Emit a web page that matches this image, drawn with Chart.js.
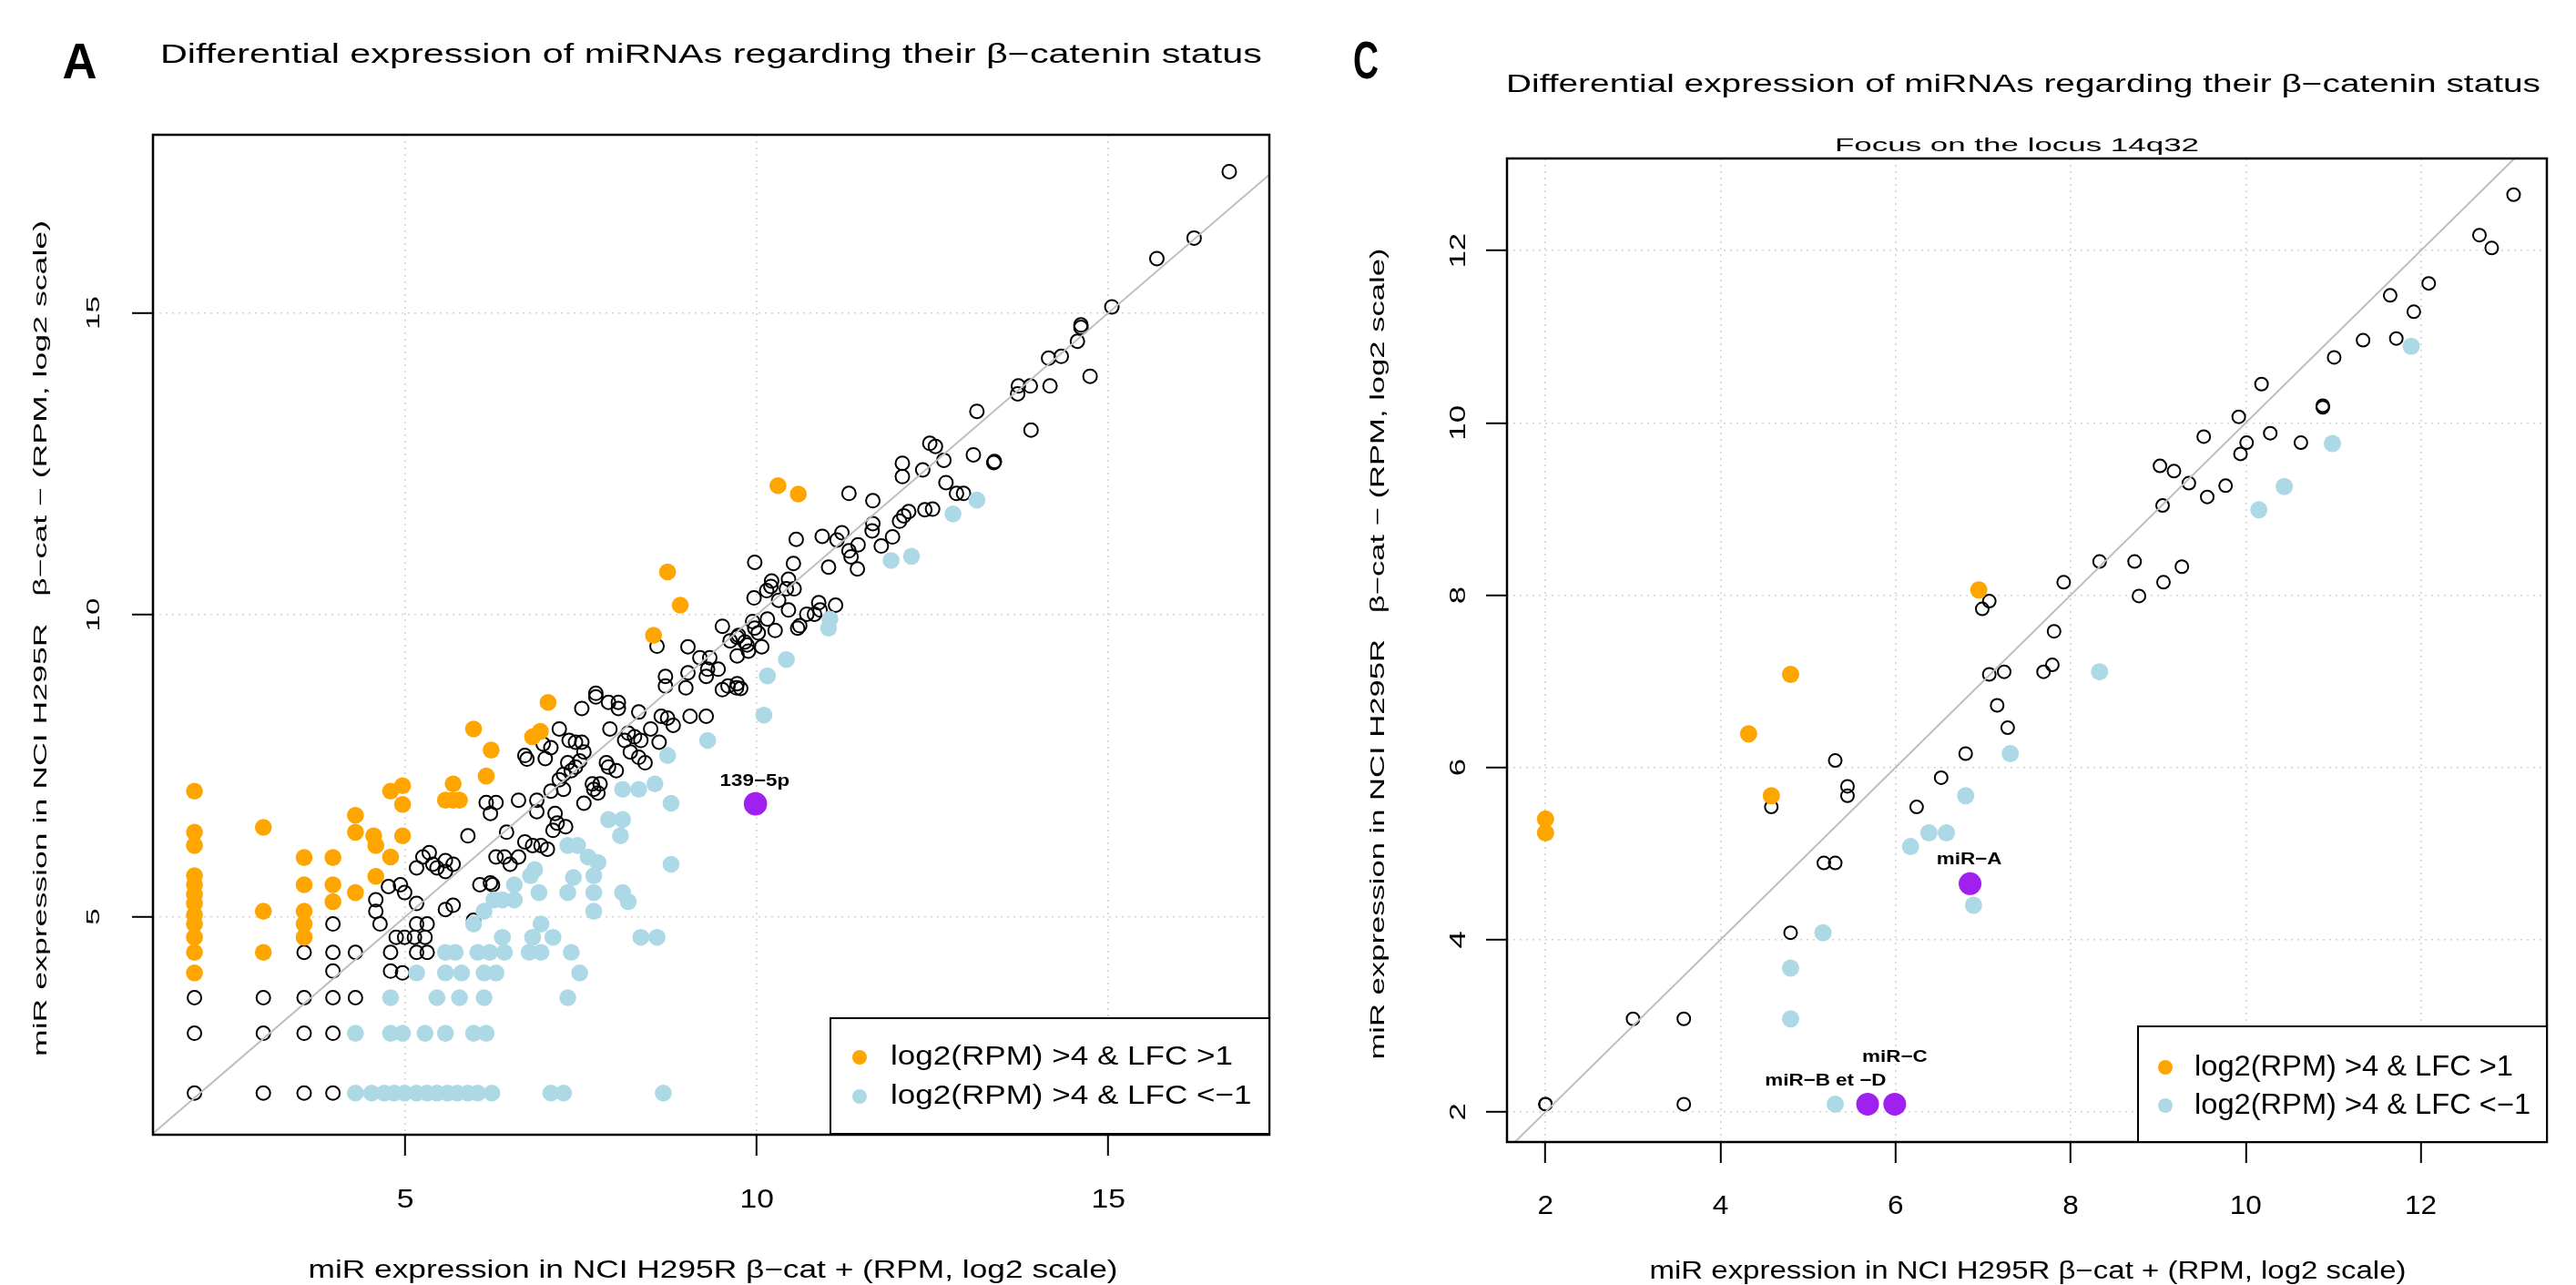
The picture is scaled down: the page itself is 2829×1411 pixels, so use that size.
<!DOCTYPE html>
<html>
<head>
<meta charset="utf-8">
<script src="https://cdn.jsdelivr.net/npm/chart.js@4.4.1/dist/chart.umd.min.js"></script>
<style>
  html, body { margin: 0; padding: 0; background: #fff; }
  body { width: 2829px; height: 1411px; position: relative; overflow: hidden; }
  canvas { position: absolute; top: 0; }
  #chartA { left: 0; }
  #chartC { left: 1420px; }
</style>
</head>
<body>
<canvas id="chartA" width="1420" height="1411"></canvas>
<canvas id="chartC" width="1409" height="1411"></canvas>
<script>
// texts
const titleText = 'Differential expression of miRNAs regarding their β−catenin status';
const subTitle = 'Focus on the locus 14q32';
const xTitle = 'miR expression in NCI H295R β−cat + (RPM, log2 scale)';
const yTitle = 'miR expression in NCI H295R   β−cat − (RPM, log2 scale)';
const legendLabels = ['log2(RPM) >4 & LFC >1', 'log2(RPM) >4 & LFC <−1'];

// panel A : all miRNAs
const aTicks = [5, 10, 15];
const aRangeX = [1.41, 17.29];
const aRangeY = [1.39, 17.95];
const aOpen = [
  [16.72,17.34],[16.22,16.24],[15.69,15.90],[15.05,15.10],[14.61,14.80],[14.61,14.76],[14.56,14.53],[14.33,14.28],
  [14.15,14.25],[14.74,13.95],[13.72,13.79],[13.89,13.79],[14.17,13.79],[13.71,13.66],[13.13,13.37],[13.90,13.06],
  [12.46,12.84],[12.54,12.79],[12.66,12.56],[13.08,12.65],[13.38,12.54],[13.37,12.52],[12.07,12.51],[12.07,12.29],
  [12.36,12.40],[12.69,12.19],[12.84,12.01],[12.94,12.01],[11.31,12.01],[11.65,11.89],
  [10.56,11.25],[10.93,11.30],[11.14,11.24],[11.21,11.36],[11.44,11.16],[11.65,11.51],[11.64,11.39],[11.93,11.29],
  [12.03,11.55],[12.16,11.71],[12.09,11.64],[12.39,11.74],[12.50,11.75],[11.77,11.14],[11.34,10.96],[11.31,11.06],
  [11.02,10.79],[11.43,10.76],
  [9.97,10.87],[10.45,10.59],[10.21,10.56],[10.52,10.85],[10.20,10.47],[10.42,10.43],[10.53,10.43],[9.96,10.28],
  [10.31,10.24],[10.45,10.08],[10.61,9.82],[10.88,10.20],[10.82,10.01],[11.12,10.16],[10.15,9.93],[9.94,9.89],
  [9.72,8.86],[9.72,9.63],[9.83,9.55],[9.72,9.32],[9.88,9.40],[9.77,8.78],[10.02,9.70],[10.07,9.47],
  [10.26,9.74],[10.58,9.78],[10.71,10.01],[10.90,10.08],[10.14,10.40],
  [8.58,9.48],[9.02,9.47],[9.19,9.29],[9.33,9.29],[9.51,9.81],[9.62,9.57],[9.74,9.66],[9.86,9.50],[9.97,9.78],
  [9.59,8.82],[9.71,8.79],[9.51,8.76],[9.45,9.10],[9.30,9.10],[8.70,8.98],[8.70,8.82],[8.99,8.79],[9.02,9.04],[9.28,8.98],
  [7.71,8.70],[7.71,8.64],[7.89,8.55],[8.03,8.55],[7.51,8.45],[8.03,8.45],[8.32,8.39],[8.64,8.32],[8.73,8.29],
  [9.05,8.32],[9.28,8.32],
  [7.91,8.11],[8.17,8.04],[8.26,7.98],[8.35,7.92],[8.12,7.92],[8.49,8.11],[8.81,8.17],[8.61,7.89],[7.19,8.11],
  [7.33,7.92],[7.42,7.89],[7.51,7.89],[6.96,7.86],[7.07,7.80],
  [6.70,7.67],[6.73,7.61],[6.99,7.62],[7.54,7.73],[7.48,7.58],[7.42,7.48],[7.36,7.42],[7.25,7.36],[7.19,7.27],
  [7.31,7.55],[7.86,7.55],[7.89,7.48],[8.00,7.42],[8.20,7.73],[8.32,7.64],[8.41,7.55],
  [7.66,7.20],[7.77,7.20],[7.74,7.05],[7.68,7.11],[7.07,7.08],[7.25,7.11],[7.54,6.88],[6.61,6.93],[6.87,6.93],
  [6.15,6.89],[6.29,6.89],[6.21,6.71],[6.87,6.74],[7.13,6.71],[7.16,6.55],[7.28,6.49],[7.10,6.43],
  [6.70,6.24],[6.81,6.18],[6.93,6.18],[7.02,6.12],[6.61,5.99],[6.44,6.40],[5.89,6.34],[6.29,5.99],[6.41,5.99],
  [6.49,5.87],[6.21,5.56],[6.06,5.53],[6.24,5.53],
  [5.57,5.93],[5.68,5.87],[5.45,5.81],[5.57,5.75],[5.34,6.06],[5.25,5.99],[5.39,5.87],[5.16,5.81],[4.93,5.53],
  [4.76,5.50],[4.99,5.40],[5.16,5.22],[4.58,5.28],[4.58,5.09],[4.64,4.88],
  [4.87,4.66],[4.99,4.66],[5.16,4.88],[5.31,4.88],[5.13,4.66],[5.28,4.66],[4.79,4.41],[5.16,4.41],[5.31,4.41],
  [5.57,5.12],[5.68,5.19],[5.97,4.94],
  [4.29,4.41],[4.29,3.66],[4.79,4.10],[4.96,4.07],
  [2,3.66],[2,3.07],[2,2.08],[2.98,3.66],[2.98,3.07],[2.98,2.08],[3.56,4.41],[3.56,3.66],[3.56,3.07],[3.56,2.08],
  [3.97,4.88],[3.97,4.41],[3.97,4.10],[3.97,3.66],[3.97,3.07],[3.97,2.08]
];
const aUp = [
  [2,7.08],[2,6.40],[2,6.18],[2,5.68],[2,5.53],[2,5.37],[2,5.22],[2,5.03],[2,4.88],[2,4.66],[2,4.41],[2,4.07],
  [2.98,6.48],[2.98,5.09],[2.98,4.41],
  [3.56,5.98],[3.56,5.53],[3.56,5.09],[3.56,4.88],[3.56,4.66],
  [3.97,5.98],[3.97,5.53],[3.97,5.25],
  [4.29,6.68],[4.29,6.40],[4.29,5.40],
  [4.55,6.34],[4.58,6.18],[4.58,5.67],
  [4.79,7.08],[4.79,5.99],
  [4.96,7.17],[4.96,6.86],[4.96,6.34],
  [5.57,6.93],[5.68,7.20],[5.68,6.93],[5.77,6.93],[5.97,8.11],[6.15,7.33],[6.22,7.76],[6.81,7.98],[6.92,8.07],
  [7.03,8.55],[8.53,9.66],[8.73,10.71],[8.91,10.16],[10.30,12.14],[10.59,12.00]
];
const aDown = [
  [12.79,11.67],[13.13,11.90],[11.91,10.90],[12.20,10.97],[11.04,9.93],[11.02,9.78],[10.42,9.26],[10.15,8.99],
  [10.10,8.34],[9.30,7.92],[8.73,7.67],[8.55,7.20],[8.78,6.88],[8.09,7.11],[8.32,7.11],[7.89,6.61],[8.09,6.61],
  [8.06,6.34],[7.31,6.18],[7.45,6.18],[7.60,5.99],[7.74,5.90],[8.78,5.87],[6.84,5.78],[6.78,5.68],[7.39,5.65],
  [7.68,5.68],[6.55,5.53],[6.90,5.40],[7.31,5.40],[7.68,5.40],[8.09,5.40],[8.17,5.25],[6.26,5.28],[6.38,5.28],
  [6.55,5.28],[6.12,5.09],[7.68,5.09],[5.97,4.88],[6.93,4.88],[6.38,4.66],[6.81,4.66],[7.10,4.66],[8.35,4.66],[8.58,4.66],
  [5.57,4.41],[5.71,4.41],[6.03,4.41],[6.20,4.41],[6.41,4.41],[6.76,4.41],[6.93,4.41],[7.36,4.41],
  [5.16,4.07],[5.57,4.07],[5.80,4.07],[6.12,4.07],[6.29,4.07],[7.48,4.07],
  [4.79,3.66],[5.45,3.66],[5.77,3.66],[6.12,3.66],[7.31,3.66],
  [4.29,3.07],[4.79,3.07],[4.96,3.07],[5.28,3.07],[5.57,3.07],[5.97,3.07],[6.15,3.07],
  [4.29,2.08],[4.52,2.08],[4.70,2.08],[4.84,2.08],[4.99,2.08],[5.16,2.08],[5.31,2.08],[5.45,2.08],[5.60,2.08],
  [5.74,2.08],[5.89,2.08],[6.03,2.08],[6.23,2.08],[7.07,2.08],[7.25,2.08],[8.67,2.08]
];
const aHighlight = [[9.98, 6.87]];
const aLabels = [['139−5p', 9.97, 7.17]];

// panel C : locus 14q32
const cTicks = [2, 4, 6, 8, 10, 12];
const cRangeX = [1.56, 13.44];
const cRangeY = [1.65, 13.07];
const cOpen = [
  [13.06,12.65],[12.67,12.18],[12.81,12.03],[12.09,11.62],[11.65,11.48],[11.92,11.29],[11.34,10.96],[11.72,10.98],
  [11.01,10.76],[10.18,10.45],[10.88,10.20],[10.88,10.18],[9.92,10.07],[9.52,9.84],[10.28,9.88],[10.01,9.77],
  [10.63,9.77],[9.94,9.64],[9.02,9.50],[9.18,9.44],[9.35,9.30],[9.77,9.27],[9.56,9.14],[9.05,9.04],[8.33,8.39],
  [8.73,8.39],[9.27,8.33],[7.92,8.15],[9.06,8.15],[8.78,7.99],[7.07,7.93],[6.99,7.84],[7.81,7.58],[7.79,7.19],
  [7.69,7.11],[7.24,7.11],[7.07,7.08],[7.16,6.72],[7.28,6.46],[6.80,6.16],[5.31,6.08],[6.52,5.88],[5.45,5.78],
  [5.45,5.67],[4.58,5.54],[6.24,5.54],[5.18,4.89],[5.31,4.89],[4.80,4.08],[3.00,3.08],[3.58,3.08],[2.0,2.09],
  [2.0,2.09],[3.58,2.09]
];
const cUp = [[6.95,8.06],[4.80,7.08],[4.32,6.39],[4.58,5.67],[2.0,5.40],[2.0,5.24]];
const cDown = [
  [11.89,10.89],[10.99,9.76],[10.44,9.26],[10.15,8.99],[8.33,7.11],[7.31,6.16],[6.80,5.67],[6.38,5.24],[6.58,5.24],
  [6.17,5.08],[6.89,4.40],[5.17,4.08],[4.80,3.67],[4.80,3.08],[5.31,2.09]
];
const cHighlight = [[6.85,4.65],[5.68,2.09],[5.99,2.09]];
const cLabels = [['miR−A', 6.84, 4.87], ['miR−C', 5.99, 2.58], ['miR−B et −D', 5.20, 2.31]];

Chart.defaults.font.family = '"Liberation Sans", Arial, sans-serif';

function toPts(arr) {
  return arr.map(p => ({x: p[0], y: p[1]}));
}

// draws text, optionally stretched along its direction like the R output
function txt(ctx, s, x, y, size, opt) {
  opt = opt || {};
  ctx.save();
  ctx.font = (opt.bold ? 'bold ' : '') + size + 'px "Liberation Sans", Arial, sans-serif';
  ctx.fillStyle = '#000';
  ctx.textAlign = opt.align || 'center';
  ctx.textBaseline = opt.base || 'alphabetic';
  let k = opt.sx || 1;
  if (opt.w) k = opt.w / ctx.measureText(s).width;
  ctx.translate(x, y);
  if (opt.rot) ctx.rotate(-Math.PI / 2);
  ctx.scale(k, 1);
  ctx.fillText(s, 0, 0);
  ctx.restore();
}

function makePanel(id, d, L) {
  const decor = {
    id: 'decor',
    afterDraw(chart) {
      const ctx = chart.ctx, a = chart.chartArea;
      const sx = chart.scales.x, sy = chart.scales.y;

      // point labels
      d.labels.forEach(l => txt(ctx, l[0], sx.getPixelForValue(l[1]), sy.getPixelForValue(l[2]), 19, {bold: true, sx: 1.18}));

      // box
      ctx.save();
      ctx.strokeStyle = '#000';
      ctx.lineWidth = 2.5;
      ctx.strokeRect(a.left, a.top, a.right - a.left, a.bottom - a.top);
      ctx.restore();

      // tick labels
      sx.ticks.forEach(t => txt(ctx, String(t.value), sx.getPixelForValue(t.value), L.xtick.y, 30, {sx: L.xtick.sx}));
      sy.ticks.forEach(t => txt(ctx, String(t.value), L.ytick.x, sy.getPixelForValue(t.value), L.ytick.size, {sx: L.ytick.sx, rot: true}));

      // titles
      txt(ctx, titleText, L.title[0], L.title[1], L.title[2], {w: L.title[3]});
      if (L.sub) txt(ctx, subTitle, L.sub[0], L.sub[1], L.sub[2], {w: L.sub[3]});
      txt(ctx, xTitle, L.xlab[0], L.xlab[1], L.xlab[2], {w: L.xlab[3]});
      txt(ctx, yTitle, L.ylab[0], L.ylab[1], L.ylab[2], {w: L.ylab[3], rot: true});
      txt(ctx, L.letter[0], L.letter[1], L.letter[2], L.letter[3], {bold: true, w: L.letter[4]});

      // legend
      const g = L.legend;
      ctx.save();
      ctx.fillStyle = '#fff';
      ctx.fillRect(g.box[0], g.box[1], g.box[2] - g.box[0], g.box[3] - g.box[1]);
      ctx.strokeStyle = '#000';
      ctx.lineWidth = 2;
      ctx.strokeRect(g.box[0], g.box[1], g.box[2] - g.box[0], g.box[3] - g.box[1]);
      ctx.font = g.size + 'px "Liberation Sans", Arial, sans-serif';
      const k = g.w / ctx.measureText(legendLabels[0]).width;
      ctx.restore();
      [1, 2].forEach((di, i) => {
        const ds = chart.data.datasets[di];
        ctx.save();
        ctx.fillStyle = ds.backgroundColor;
        ctx.beginPath();
        ctx.arc(g.dotX, g.rows[i], 8, 0, Math.PI * 2);
        ctx.fill();
        ctx.restore();
        txt(ctx, ds.label, g.textX, g.rows[i], g.size, {align: 'left', base: 'middle', sx: k});
      });
    }
  };

  const lo = Math.min(d.rx[0], d.ry[0]), hi = Math.max(d.rx[1], d.ry[1]);
  const gridOpts = {color: '#D3D3D3', lineWidth: 1.6, drawTicks: true, tickLength: 23, tickColor: '#000', tickWidth: 2};

  return new Chart(document.getElementById(id), {
    type: 'scatter',
    data: {
      datasets: [
        {label: 'highlight', data: toPts(d.hl), backgroundColor: '#A020F0', pointRadius: L.rHl, pointBorderWidth: 0},
        {label: legendLabels[0], data: toPts(d.up), backgroundColor: '#FFA500', pointRadius: L.rFill, pointBorderWidth: 0},
        {label: legendLabels[1], data: toPts(d.down), backgroundColor: '#ADD8E6', pointRadius: L.rFill, pointBorderWidth: 0},
        {label: 'y = x', data: [{x: lo, y: lo}, {x: hi, y: hi}], showLine: true, borderColor: '#BEBEBE',
         borderWidth: 2, pointRadius: 0, clip: 0},
        {label: 'other', data: toPts(d.open), backgroundColor: 'rgba(0,0,0,0)', borderColor: '#000',
         pointRadius: L.rOpen, pointBorderWidth: 2}
      ]
    },
    options: {
      responsive: false,
      animation: false,
      devicePixelRatio: 1,
      events: [],
      layout: {padding: L.pad},
      plugins: {legend: {display: false}, tooltip: {enabled: false}, title: {display: false}},
      scales: {
        x: {
          type: 'linear', min: d.rx[0], max: d.rx[1],
          afterBuildTicks: s => { s.ticks = d.ticks.map(v => ({value: v})); },
          afterFit: s => { s.height = L.xAxisH; },
          ticks: {display: false},
          grid: gridOpts,
          border: {display: false, dash: [2, 5]}
        },
        y: {
          type: 'linear', min: d.ry[0], max: d.ry[1],
          afterBuildTicks: s => { s.ticks = d.ticks.map(v => ({value: v})); },
          afterFit: s => { s.width = L.yAxisW; },
          ticks: {display: false},
          grid: gridOpts,
          border: {display: false, dash: [2, 5]}
        }
      }
    },
    plugins: [decor]
  });
}

makePanel('chartA',
  {ticks: aTicks, rx: aRangeX, ry: aRangeY, open: aOpen, up: aUp, down: aDown, hl: aHighlight, labels: aLabels},
  {
    pad: {top: 148, right: 26, left: 0, bottom: 0}, yAxisW: 168, xAxisH: 165,
    rOpen: 7.5, rFill: 9.3, rHl: 12.8,
    letter: ['A', 87.5, 86, 56, 38],
    title: [781, 69, 29, 1210],
    sub: null,
    xlab: [783, 1403, 27.5, 889],
    ylab: [51, 701, 20, 918],
    xtick: {y: 1326, sx: 1.12},
    ytick: {x: 109, size: 20, sx: 1.65},
    legend: {box: [912, 1118, 1394, 1245], dotX: 944, textX: 978, rows: [1161, 1204], size: 30, w: 376}
  });

makePanel('chartC',
  {ticks: cTicks, rx: cRangeX, ry: cRangeY, open: cOpen, up: cUp, down: cDown, hl: cHighlight, labels: cLabels},
  {
    pad: {top: 174, right: 32, left: 0, bottom: 0}, yAxisW: 235, xAxisH: 157,
    rOpen: 7, rFill: 9.5, rHl: 12.5,
    letter: ['C', 80, 86, 58, 28],
    title: [802, 101, 27, 1136],
    sub: [795, 166, 20, 400],
    xlab: [807, 1404, 27, 831],
    ylab: [100, 718, 22.5, 891],
    xtick: {y: 1333, sx: 1.05},
    ytick: {x: 189, size: 24, sx: 1.45},
    legend: {box: [928, 1127, 1377, 1254], dotX: 958, textX: 990, rows: [1172, 1214], size: 31, w: 350}
  });
</script>
</body>
</html>
